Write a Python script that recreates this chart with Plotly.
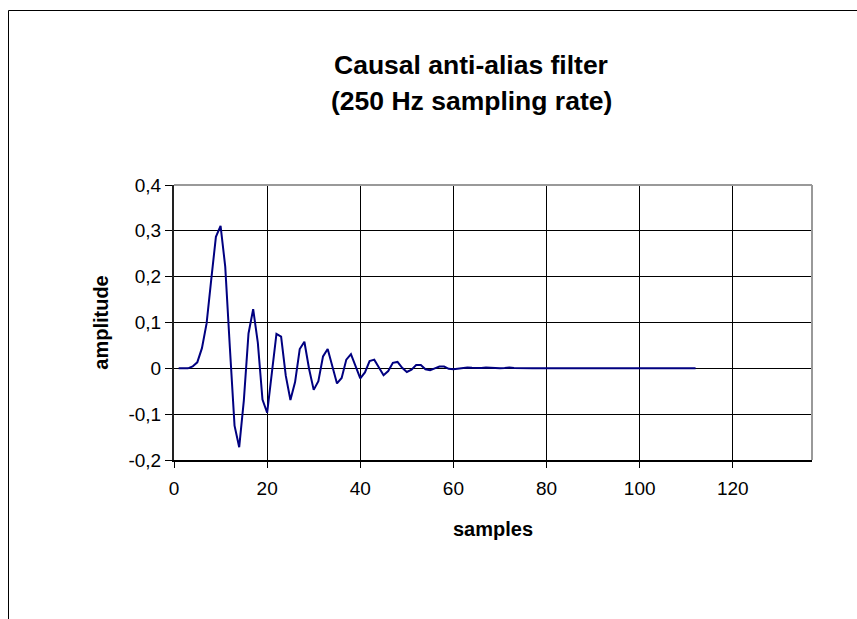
import plotly.graph_objects as go

samples = list(range(1, 113))
amplitude_head = [
    0.0, 0.0, 0.0, 0.004, 0.013, 0.044, 0.098, 0.194, 0.287, 0.311,
    0.222, 0.045, -0.125, -0.172, -0.070, 0.076, 0.129, 0.056, -0.068, -0.097,
    -0.012, 0.075, 0.069, -0.016, -0.069, -0.030, 0.042, 0.058, -0.001, -0.047,
    -0.028, 0.026, 0.042, 0.007, -0.033, -0.021, 0.019, 0.031, 0.003, -0.022,
    -0.009, 0.016, 0.019, 0.002, -0.015, -0.006, 0.012, 0.014, 0.001, -0.008,
    -0.003, 0.007, 0.007, -0.002, -0.004, 0.000, 0.004, 0.004, -0.001, -0.002,
    -0.001, 0.001, 0.002, 0.001, 0.0, 0.0005, 0.002, 0.001, 0.0, 0.0,
    0.0005, 0.002, 0.0005,
]
amplitude_tail = [0.0] * (112 - len(amplitude_head))
amplitude = amplitude_head + amplitude_tail

x_ticks = [0, 20, 40, 60, 80, 100, 120]
y_ticks = [-0.2, -0.1, 0, 0.1, 0.2, 0.3, 0.4]
y_tick_labels = ["-0,2", "-0,1", "0", "0,1", "0,2", "0,3", "0,4"]

title_line1 = "Causal anti-alias filter"
title_line2 = "(250 Hz sampling rate)"

W, H = 857, 619
L, R, T, B = 174, 45, 185, 159
pw, ph = W - L - R, H - T - B

def px(xp):
    return (xp - L) / pw

def py(yp):
    return (H - B - yp) / ph

fig = go.Figure()
fig.add_trace(go.Scatter(
    x=samples, y=amplitude, mode="lines",
    line=dict(color="#000080", width=2),
    showlegend=False, hoverinfo="skip",
))

font = "Liberation Sans, Arial, sans-serif"

fig.update_layout(
    width=W, height=H,
    margin=dict(l=L, r=R, t=T, b=B, pad=0),
    paper_bgcolor="white", plot_bgcolor="white",
    font=dict(family=font, color="black"),
    showlegend=False,
    xaxis=dict(
        range=[0, 137], tickvals=x_ticks, ticktext=[str(v) for v in x_ticks],
        showgrid=True, gridcolor="#000000", gridwidth=1,
        showline=True, linecolor="#000000", linewidth=2,
        ticks="outside", ticklen=6, tickcolor="#000000", tickwidth=1,
        tickfont=dict(size=19, family=font), ticklabelstandoff=4,
        zeroline=False,
        title=dict(text="<b>samples</b>", font=dict(size=20, family=font), standoff=24),
    ),
    yaxis=dict(
        range=[-0.2, 0.4], tickvals=y_ticks, ticktext=y_tick_labels,
        showgrid=True, gridcolor="#000000", gridwidth=1,
        showline=True, linecolor="#222222", linewidth=2,
        ticks="outside", ticklen=7, tickcolor="#000000", tickwidth=1,
        tickfont=dict(size=19, family=font),
        zeroline=False,
        title=dict(text="<b>amplitude</b>", font=dict(size=20, family=font), standoff=14),
    ),
    shapes=[
        dict(type="line", xref="paper", yref="paper", x0=0, x1=1, y0=1, y1=1,
             line=dict(color="#999999", width=2)),
        dict(type="line", xref="paper", yref="paper", x0=1, x1=1, y0=0, y1=1,
             line=dict(color="#999999", width=2)),
        dict(type="rect", xref="paper", yref="paper",
             x0=px(8.5), x1=px(880), y0=py(10.5), y1=py(660),
             line=dict(color="#000000", width=1)),
    ],
    annotations=[
        dict(text="<b>" + title_line1 + "</b>", xref="paper", yref="paper",
             x=px(471), y=py(65), xanchor="center", yanchor="middle",
             showarrow=False, font=dict(size=26.5, family=font)),
        dict(text="<b>" + title_line2 + "</b>", xref="paper", yref="paper",
             x=px(471), y=py(101), xanchor="center", yanchor="middle",
             showarrow=False, font=dict(size=26.5, family=font)),
    ],
)

fig.write_html("out.html")
